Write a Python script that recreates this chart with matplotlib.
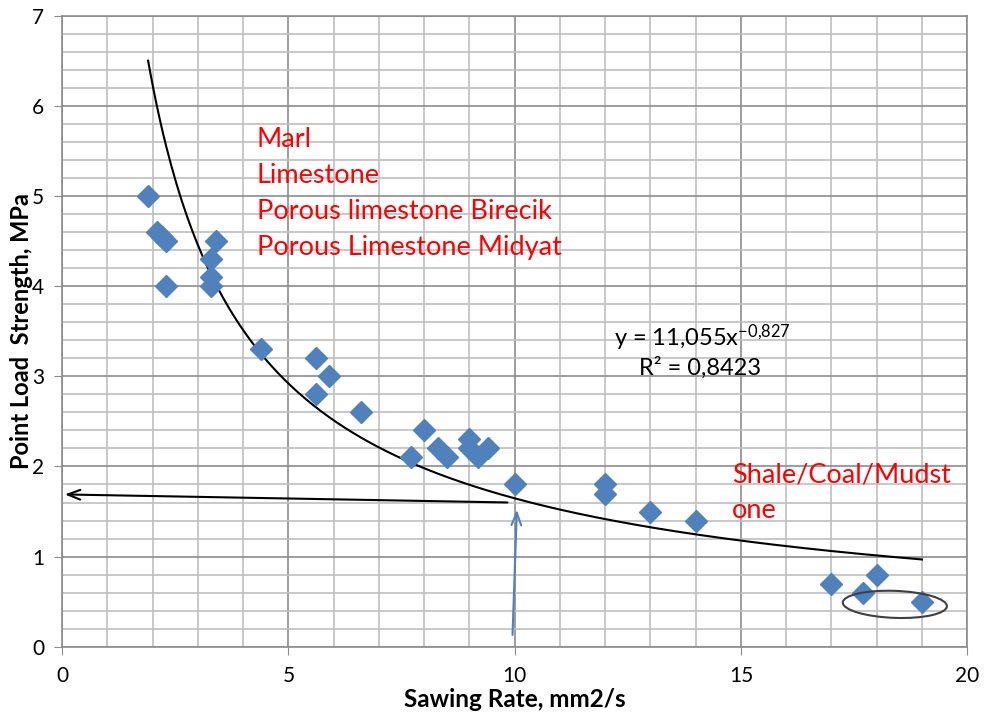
import matplotlib.pyplot as plt
import numpy as np
from matplotlib.patches import Ellipse

plt.rcParams['font.family'] = ['Lato', 'DejaVu Sans']
plt.rcParams['mathtext.fontset'] = 'custom'
plt.rcParams['mathtext.rm'] = 'Lato'
plt.rcParams['mathtext.it'] = 'Lato:italic'

sawing_rate = [1.9, 2.1, 2.2, 2.3, 2.3, 3.4, 3.3, 3.3, 3.3, 4.4, 5.6, 5.9, 5.6, 6.6,
               7.7, 8.0, 8.3, 8.5, 9.0, 9.0, 9.2, 9.4, 10.0, 12.0, 12.0, 13.0, 14.0,
               17.0, 17.7, 18.0, 19.0]
pls = [5.0, 4.6, 4.55, 4.5, 4.0, 4.5, 4.3, 4.1, 4.0, 3.3, 3.2, 3.0, 2.8, 2.6,
       2.1, 2.4, 2.2, 2.1, 2.3, 2.2, 2.1, 2.2, 1.8, 1.8, 1.7, 1.5, 1.4,
       0.7, 0.6, 0.8, 0.5]

# power trend line y = a x^b
coef_a = 11.055
coef_b = -0.827
x_fit = np.linspace(min(sawing_rate), max(sawing_rate), 300)
y_fit = coef_a * x_fit ** coef_b

rock_labels = ["Marl", "Limestone", "Porous limestone Birecik", "Porous Limestone Midyat"]
rock_label_y = [5.63, 5.23, 4.83, 4.43]

fig = plt.figure(figsize=(9.86, 7.17), dpi=100)
ax = fig.add_axes([0.063, 0.098, 0.918, 0.88])

ax.set_xlim(0, 20)
ax.set_ylim(0, 7)
ax.set_xticks(np.arange(0, 21, 5))
ax.set_xticks(np.arange(0, 21, 1), minor=True)
ax.set_yticks(np.arange(0, 8, 1))
ax.set_yticks(np.arange(0, 7.01, 0.2), minor=True)
ax.grid(which='major', color='#8c8c8c', linewidth=1.2)
ax.grid(which='minor', color='#bfbfbf', linewidth=1.2)
ax.set_axisbelow(True)
for s in ax.spines.values():
    s.set_color('#8c8c8c')
    s.set_linewidth(1.2)
ax.tick_params(which='major', direction='out', length=6, color='#8c8c8c', labelsize=15, pad=8)
ax.tick_params(axis='y', which='major', pad=7)
ax.tick_params(which='minor', length=0)

ax.plot(x_fit, y_fit, color='black', linewidth=1.5, zorder=3)
ax.plot(sawing_rate, pls, linestyle='none', marker='D', markersize=11,
        color='#4F81BD', zorder=4)

# reading arrows
ax.annotate('', xy=(0.0, 1.69), xytext=(9.9, 1.6),
            arrowprops=dict(arrowstyle='->,head_length=0.9,head_width=0.35', color='black', lw=1.5),
            annotation_clip=False, zorder=5)
ax.annotate('', xy=(10.05, 1.55), xytext=(9.95, 0.1),
            arrowprops=dict(arrowstyle='->,head_length=0.9,head_width=0.35', color='#4F81BD', lw=1.5),
            zorder=5)

ax.add_patch(Ellipse((18.4, 0.47), 2.3, 0.3, angle=-1, fill=False,
                     edgecolor='#404040', linewidth=1.5, zorder=5))

for lbl, yy in zip(rock_labels, rock_label_y):
    ax.text(4.3, yy, lbl, color='red', fontsize=19.5, va='center', ha='left')
ax.text(14.8, 1.90, "Shale/Coal/Mudst", color='red', fontsize=19.5, va='center', ha='left')
ax.text(14.8, 1.51, "one", color='red', fontsize=19.5, va='center', ha='left')

ax.text(12.2, 3.43, r"y = 11,055x$^{\mathrm{-0{,}827}}$", fontsize=17, ha='left', va='center')
ax.text(14.1, 3.1, "R² = 0,8423", fontsize=17, ha='center', va='center')

ax.set_xlabel("Sawing Rate, mm2/s", fontsize=17.5, fontweight='bold', labelpad=1)
ax.set_ylabel("Point Load  Strength, MPa", fontsize=17, fontweight='bold', labelpad=-1)

fig.savefig("out.png", dpi=100)
